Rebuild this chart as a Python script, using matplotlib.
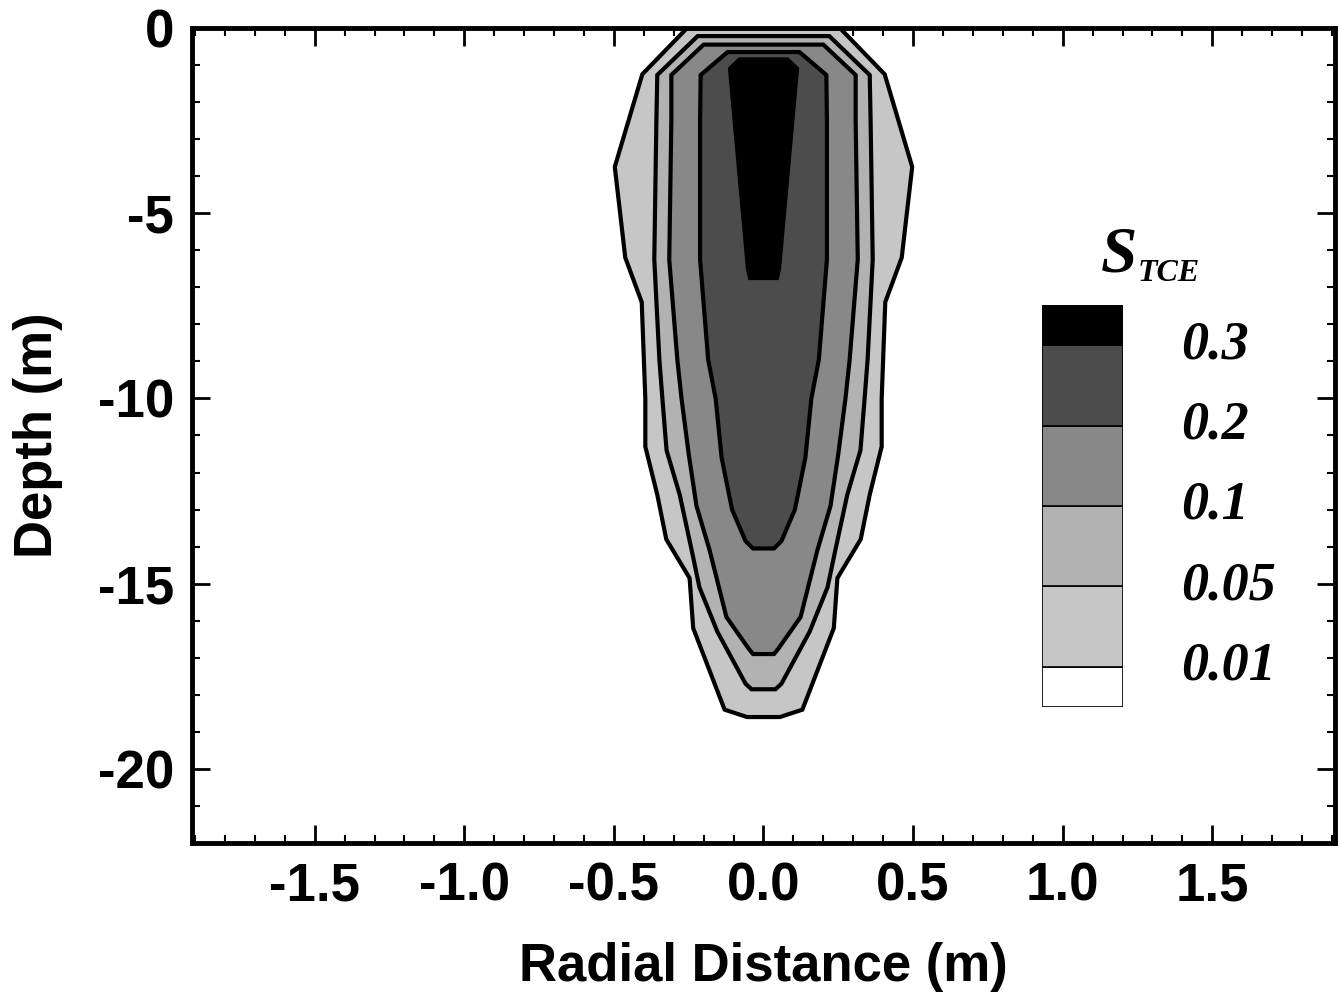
import numpy as np
import matplotlib
matplotlib.use('Agg')
import matplotlib.pyplot as plt
from matplotlib.ticker import MultipleLocator, FormatStrFormatter
from matplotlib.transforms import blended_transform_factory

# contour levels of TCE saturation and their fill greys
levels = [0.01, 0.05, 0.1, 0.2, 0.3]
level_labels = ['0.01', '0.05', '0.1', '0.2', '0.3']
band_colors = ['#c6c6c6', '#b2b2b2', '#888888', '#4c4c4c', '#000000']

# contour outlines: depth (m, positive down) and half width (m)
d_001 = [0.0, 1.25, 3.75, 6.2, 7.4, 10.0, 11.3, 12.6, 13.8, 14.85, 16.2, 18.4, 18.6]
w_001 = [0.255, 0.405, 0.497, 0.462, 0.407, 0.395, 0.395, 0.355, 0.325, 0.247, 0.235, 0.13, 0.055]

d_005 = [0.22, 0.22, 1.27, 2.5, 6.25, 8.95, 10.0, 11.4, 12.6, 14.1, 15.1, 16.3, 17.7, 17.85]
w_005 = [0.0, 0.22, 0.355, 0.358, 0.365, 0.348, 0.338, 0.324, 0.28, 0.24, 0.214, 0.154, 0.06, 0.04]

d_010 = [0.45, 0.45, 1.27, 2.5, 6.25, 8.95, 10.0, 11.5, 12.9, 14.1, 15.9, 16.75, 16.9]
w_010 = [0.0, 0.2, 0.308, 0.308, 0.315, 0.288, 0.274, 0.25, 0.224, 0.18, 0.124, 0.05, 0.035]

d_020 = [0.65, 0.65, 1.27, 2.5, 6.25, 8.95, 10.0, 11.6, 13.0, 13.85, 14.05]
w_020 = [0.0, 0.12, 0.21, 0.212, 0.212, 0.185, 0.16, 0.14, 0.105, 0.06, 0.035]

d_030 = [0.85, 1.1, 6.5, 6.75]
w_030 = [0.08, 0.112, 0.052, 0.045]

outlines = [(d_001, w_001), (d_005, w_005), (d_010, w_010), (d_020, w_020), (d_030, w_030)]

plt.rcParams['font.family'] = 'Liberation Sans'
plt.rcParams['font.weight'] = 'bold'
plt.rcParams['axes.unicode_minus'] = False

fig = plt.figure(figsize=(13.39, 9.98), dpi=100)
ax = fig.add_axes([0.1434, 0.1553, 0.997 - 0.1434, 0.972 - 0.1553])

for (d, w), c in zip(outlines, band_colors):
    d = np.array(d)
    w = np.array(w)
    xs = np.concatenate([-w, w[::-1]])
    ys = np.concatenate([-d, -d[::-1]])
    ax.fill(xs, ys, facecolor=c, edgecolor='black', linewidth=3, joinstyle='miter', zorder=2)

ax.set_xlim(-1.91, 1.91)
ax.set_ylim(-22, 0)
ax.xaxis.set_major_locator(MultipleLocator(0.5))
ax.xaxis.set_minor_locator(MultipleLocator(0.1))
ax.xaxis.set_major_formatter(FormatStrFormatter('%.1f'))
ax.yaxis.set_major_locator(MultipleLocator(5))
ax.yaxis.set_minor_locator(MultipleLocator(1))
ax.tick_params(which='both', direction='in', top=True, right=True, labelsize=38)
ax.tick_params(which='major', length=13, width=2, pad=13)
ax.tick_params(which='minor', length=6, width=1.5)
for s in ax.spines.values():
    s.set_linewidth(3.5)
    s.set_zorder(5)

ax.set_xlabel('Radial Distance (m)', fontsize=38, fontweight='bold', labelpad=22)
ax.set_ylabel('Depth (m)', fontsize=38, fontweight='bold', labelpad=25)

# legend key
lax = fig.add_axes([1042 / 1339, 1 - 707 / 998, 81 / 1339, 402 / 998])
bottoms = [0.0] + [i + 0.5 for i in range(len(levels))]
heights = [0.5, 1, 1, 1, 1, 0.5]
key_colors = ['white'] + band_colors
lax.bar([0] * len(heights), heights, bottom=bottoms, width=1, color=key_colors,
        edgecolor='black', linewidth=1.2, align='edge')
lax.set_xlim(0, 1)
lax.set_ylim(0, 5)
lax.axis('off')
tr = blended_transform_factory(lax.transAxes, lax.transData)
for i, lab in enumerate(level_labels):
    lax.text(1.72, i + 0.5, lab, transform=tr, ha='left', va='center',
             fontsize=39, fontfamily='Liberation Serif', fontweight='bold', fontstyle='italic')

fig.text(1101 / 1339, 1 - 272 / 998, 'S', fontsize=47, fontfamily='Liberation Serif',
         fontweight='bold', fontstyle='italic', ha='left', va='baseline')
fig.text(1138 / 1339, 1 - 281 / 998, 'TCE', fontsize=23, fontfamily='Liberation Serif',
         fontweight='bold', fontstyle='italic', ha='left', va='baseline')

fig.savefig('out.png', dpi=100)
